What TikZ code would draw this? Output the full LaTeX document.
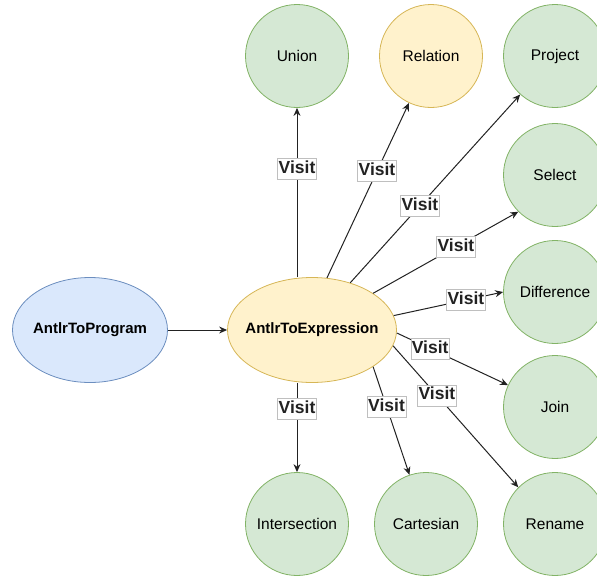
\documentclass[tikz,border=0pt]{standalone}
\usepackage{fontspec}
\setmainfont{Liberation Sans}
\usetikzlibrary{shapes.geometric,arrows.meta}
\definecolor{opGreen}{RGB}{213, 232, 212}
\definecolor{opGreenLine}{RGB}{130, 179, 102}
\definecolor{opYellow}{RGB}{255, 242, 204}
\definecolor{opYellowLine}{RGB}{214, 182, 86}
\definecolor{opBlue}{RGB}{218, 232, 252}
\definecolor{opBlueLine}{RGB}{108, 142, 191}
\definecolor{edgeGray}{RGB}{34, 34, 34}
\begin{document}
\begin{tikzpicture}[x=1pt, y=-1pt, >={Stealth[length=8pt,width=7pt]},
    opnode/.style={draw=opGreenLine, fill=opGreen, circle, line width=0.8pt, minimum size=103pt, inner sep=0pt, font=\fontsize{15.5}{18}\selectfont},
    visitor/.style={draw, ellipse, line width=0.8pt, inner xsep=-20pt, inner ysep=0pt, minimum height=105pt, font=\fontsize{15}{18}\selectfont\bfseries},
    visit/.style={fill=white, draw=black!25, line width=0.5pt, inner xsep=1pt, inner ysep=2.5pt, text height=12.5pt, text depth=3.5pt, font=\fontsize{17.5}{19}\selectfont\bfseries},
    edge/.style={->, line width=1pt, color=edgeGray}]
    \useasboundingbox (0,0) rectangle (597,576);
    \node[visitor, draw=opBlueLine, fill=opBlue, minimum width=155pt] (prog) at (90,330) {AntlrToProgram};
    \node[visitor, draw=opYellowLine, fill=opYellow, minimum width=169pt] (expr) at (312,330) {AntlrToExpression};
    \node[opnode] (union) at (297,56) {Union};
    \node[opnode, draw=opYellowLine, fill=opYellow] (relation) at (431,56) {Relation};
    \node[opnode] (project) at (555,56) {Project};
    \node[opnode] (select) at (555,175) {Select};
    \node[opnode] (difference) at (555,292) {Difference};
    \node[opnode] (join) at (555,407) {Join};
    \node[opnode] (rename) at (555,524) {Rename};
    \node[opnode] (cartesian) at (426,524) {Cartesian};
    \node[opnode] (intersection) at (297,524) {Intersection};
    \draw[edge] (prog) -- (expr);
    \draw[edge] (expr.north -| union) -- node[visit, pos=0.64] {Visit} (union);
    \draw[edge] (expr.74) -- node[visit, pos=0.61] {Visit} (relation);
    \draw[edge] (expr.51) -- node[visit, pos=0.41] {Visit} (project);
    \draw[edge] (expr.31) -- node[visit, pos=0.57] {Visit} (select.225);
    \draw[edge] (expr.10) -- node[visit, pos=0.66] {Visit} (difference.west);
    \draw[edge] (expr.-2) -- node[visit, pos=0.30] {Visit} (join.155);
    \draw[edge] (expr.-11) -- node[visit, pos=0.35] {Visit} (rename.135);
    \draw[edge] (expr.-31) -- node[visit, pos=0.37] {Visit} (cartesian);
    \draw[edge] (expr.south -| intersection) -- node[visit, pos=0.29] {Visit} (intersection);
\end{tikzpicture}
\end{document}
